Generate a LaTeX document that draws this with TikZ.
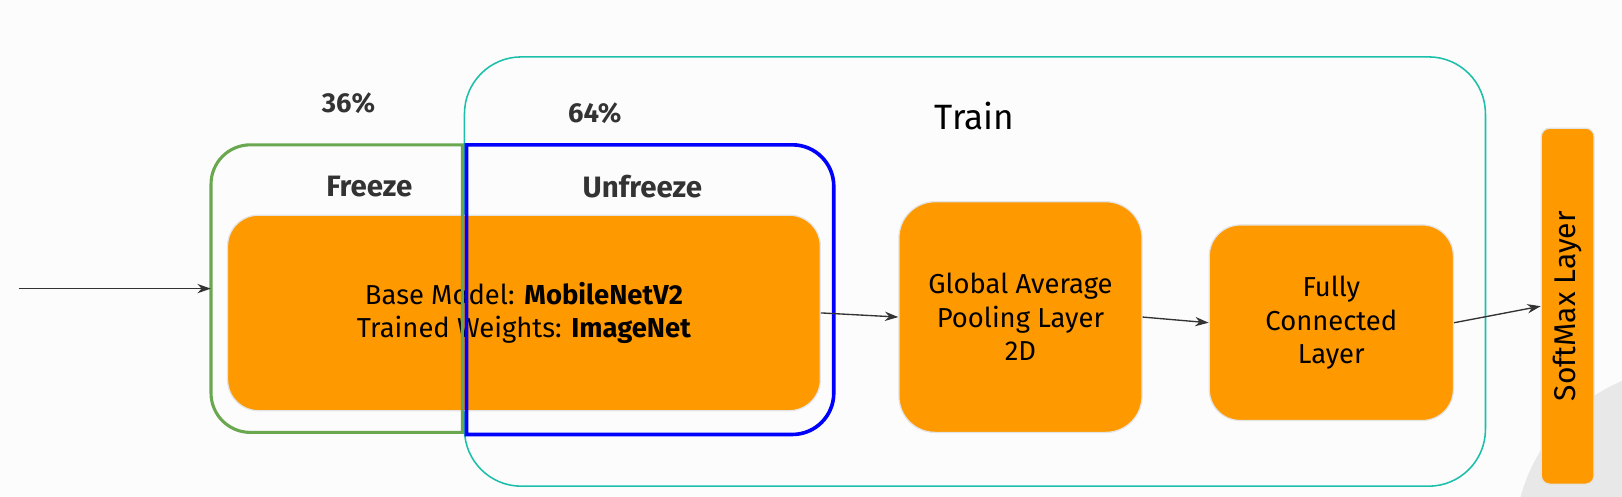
\documentclass[tikz,border=0pt]{standalone}
\usepackage{fontspec}
\setmainfont{Fira Sans}
\usetikzlibrary{arrows.meta}
\definecolor{bg}{HTML}{FCFCFC}
\definecolor{org}{HTML}{FF9900}
\definecolor{orgline}{HTML}{E4E4E4}
\definecolor{frzgreen}{HTML}{6AA84F}
\definecolor{ufzblue}{HTML}{0000FF}
\definecolor{trteal}{HTML}{1CBFAA}
\definecolor{circgrey}{HTML}{E8E8E8}
\definecolor{arr}{HTML}{333333}
\definecolor{lbl}{HTML}{333333}
\begin{document}
\begin{tikzpicture}[x=1pt,y=1pt,
  layerbox/.style={draw=orgline, line width=1.2pt, fill=org, rounded corners=#1,
    align=center, inner sep=0pt, text=black, font=\fontsize{26.5}{32.5}\selectfont},
  layerbox/.default=30pt,
  conn/.style={draw=arr, line width=1.3pt, -{Stealth[length=13pt,width=9pt]}},
  pct/.style={text=lbl, font=\bfseries\fontsize{26.5}{30}\selectfont},
  stagelbl/.style={text=lbl, font=\bfseries\fontsize{28.5}{30}\selectfont},
  frame/.style={inner sep=0pt, draw=none}
]
\fill[bg] (0,0) rectangle (1568,-479.5);
\useasboundingbox (0,0) rectangle (1568,-479.5);
\begin{scope}
  \clip (0,0) rectangle (1568,-479.5);
  \fill[circgrey] (1634,-525) circle[radius=170];
\end{scope}
% train frame
\draw[trteal, line width=1.5pt, rounded corners=55pt] (449,-55) rectangle (1436,-470);
\node[font=\fontsize{34}{40}\selectfont, text=black] (train) at (942,-112) {Train};
% layers
\node[layerbox, minimum width=573pt, minimum height=189pt] (base) at (506.5,-302.5)
  {Base Model: \textbf{MobileNetV2}\\Trained Weights: \textbf{ImageNet}};
\node[layerbox=35pt, minimum width=235pt, minimum height=223pt] (gap) at (986.5,-306.5)
  {Global Average\\Pooling Layer\\2D};
\node[layerbox, minimum width=236pt, minimum height=189pt] (fc) at (1287,-312)
  {Fully\\Connected\\Layer};
\node[layerbox=8pt, minimum width=51pt, minimum height=344pt] (soft) at (1515.5,-296) {};
\node[rotate=90, font=\fontsize{29}{32}\selectfont, text=black] (softtext) at (soft.center) {SoftMax Layer};
% freeze / unfreeze frames
\node[frame, minimum width=243pt, minimum height=278pt] (freeze) at (325.5,-279) {};
\draw[frzgreen, line width=3pt] (447,-140) -- (242,-140)
  arc[start angle=90, end angle=180, radius=38pt] -- (204,-380)
  arc[start angle=180, end angle=270, radius=38pt] -- (447,-418) -- cycle;
\draw[ufzblue, line width=3.5pt] (451,-140) -- (766,-140)
  arc[start angle=90, end angle=0, radius=40pt] -- (806,-380)
  arc[start angle=0, end angle=-90, radius=40pt] -- (451,-420) -- cycle;
\node[stagelbl] (freezelbl) at (357,-180) {Freeze};
\node[stagelbl] (unfreezelbl) at (621,-180) {Unfreeze};
\node[pct] (p36) at (337,-100) {36\%};
\node[pct] (p64) at (575,-109) {64\%};
% connectors
\coordinate (src) at (18,-279);
\draw[conn] (src) -- (freeze.west);
\draw[conn] (base.east) -- (gap.west);
\draw[conn] (gap.east) -- (fc.west);
\draw[conn] (fc.east) -- (soft.west);
\end{tikzpicture}
\end{document}
